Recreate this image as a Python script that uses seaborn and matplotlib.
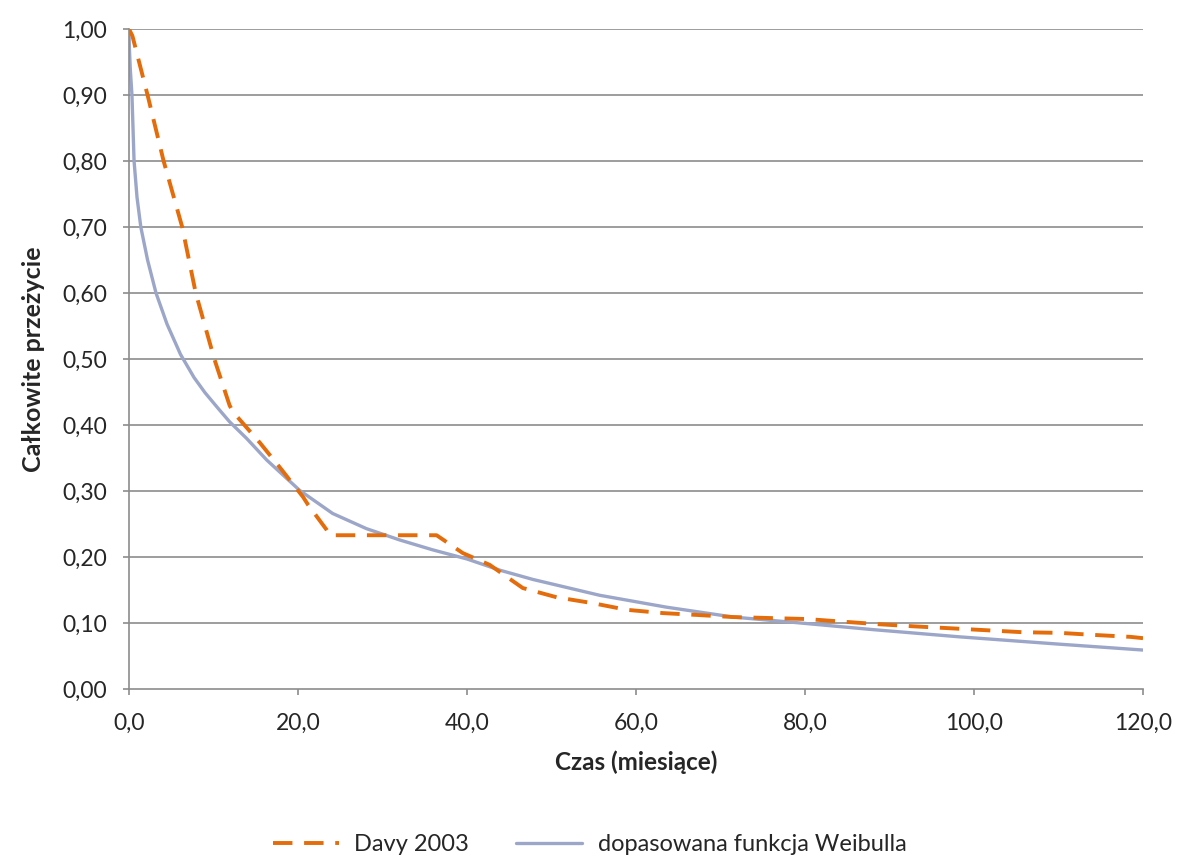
import pandas as pd
import seaborn as sns
import numpy as np
import matplotlib
matplotlib.use('Agg')
import matplotlib.pyplot as plt
from matplotlib.lines import Line2D

# Davy 2003
davy_t = [0, 0.4, 2.2, 4.1, 6.3, 7.9, 10.1, 11.9, 12.3, 15.5, 17.9, 20.6, 21.2, 23.4, 23.8,
          30.0, 36.4, 39.5, 42.7, 46.6, 50.6, 54.9, 58.9, 63.2, 67.5, 71.5, 80.2, 84.5,
          88.9, 92.8, 97.2, 101.5, 105.8, 110.2, 114.1, 118.5, 120]
davy_s = [1.00, 0.99, 0.90, 0.80, 0.70, 0.60, 0.50, 0.43, 0.42, 0.373, 0.335, 0.291, 0.279,
          0.241, 0.233, 0.233, 0.233, 0.206, 0.188, 0.153, 0.139, 0.130, 0.120, 0.115, 0.112,
          0.109, 0.106, 0.102, 0.098, 0.095, 0.092, 0.089, 0.086, 0.085, 0.082, 0.079, 0.077]

# dopasowana funkcja Weibulla
weib_t = [0, 0.05, 0.15, 0.35, 0.6, 0.95, 1.4, 2.2, 3.2, 4.5, 6.1, 7.7, 9.0, 10.5, 11.9, 13.9,
          16.3, 20.2, 24.1, 28.1, 32, 35.9, 40, 43.9, 47.8, 55.7, 63.6, 71.5, 78.6, 88,
          98.3, 110, 120]
weib_s = [1.00, 0.97, 0.94, 0.90, 0.80, 0.745, 0.70, 0.65, 0.60, 0.553, 0.507, 0.472, 0.449,
          0.426, 0.405, 0.38, 0.347, 0.301, 0.266, 0.243, 0.226, 0.211, 0.197, 0.180, 0.166,
          0.142, 0.124, 0.109, 0.101, 0.090, 0.079, 0.068, 0.059]

x_ticks = [0, 20, 40, 60, 80, 100, 120]
y_ticks = [0, 0.1, 0.2, 0.3, 0.4, 0.5, 0.6, 0.7, 0.8, 0.9, 1.0]

sns.set_style('white')
plt.rcParams['font.family'] = ['Lato', 'DejaVu Sans']

orange = '#e46c0a'
blue = '#9ba6c9'
grid_c = '#8c8c8c'

fig = plt.figure(figsize=(11.77, 8.58), dpi=100)
ax = fig.add_axes([0.1096, 0.197, 0.8615, 0.769])

for y in y_ticks[1:]:
    ax.axhline(y, color=grid_c, lw=1.2, zorder=0)

df_davy = pd.DataFrame({'t': davy_t, 's': davy_s})
df_weib = pd.DataFrame({'t': weib_t, 's': weib_s})

sns.lineplot(data=df_weib, x='t', y='s', ax=ax, color=blue, lw=2.4, sort=False)
sns.lineplot(data=df_davy, x='t', y='s', ax=ax, color=orange, lw=2.8, sort=False,
             linestyle=(0, (5, 3)))

ax.set_xlim(0, 120)
ax.set_ylim(0, 1.0)
ax.set_xticks(x_ticks)
ax.set_xticklabels(['{:.1f}'.format(v).replace('.', ',') for v in x_ticks])
ax.set_yticks(y_ticks)
ax.set_yticklabels(['{:.2f}'.format(v).replace('.', ',') for v in y_ticks])
ax.tick_params(axis='both', labelsize=16.5, length=4, width=1.2, color=grid_c,
               direction='out', labelcolor='#262626')
ax.tick_params(axis='y', pad=12)
ax.tick_params(axis='x', pad=13)
ax.xaxis.set_ticks_position('bottom')
ax.yaxis.set_ticks_position('left')

for side in ['top', 'right']:
    ax.spines[side].set_visible(False)
for side in ['left', 'bottom']:
    ax.spines[side].set_color(grid_c)
    ax.spines[side].set_linewidth(1.2)

ax.set_xlabel('Czas (miesiące)', fontsize=17.5, fontweight='bold', labelpad=12)
ax.set_ylabel('Całkowite przeżycie', fontsize=18, fontweight='bold', labelpad=12)

handles = [Line2D([], [], color=orange, lw=2.8, linestyle=(0, (5, 3))),
           Line2D([], [], color=blue, lw=2.4)]
fig.legend(handles, ['Davy 2003', 'dopasowana funkcja Weibulla'], loc='center',
           bbox_to_anchor=(0.501, 0.016), ncol=2, frameon=False, fontsize=17,
           handlelength=2.8, handletextpad=0.64, columnspacing=2.0)

plt.savefig('out.png', dpi=100)
